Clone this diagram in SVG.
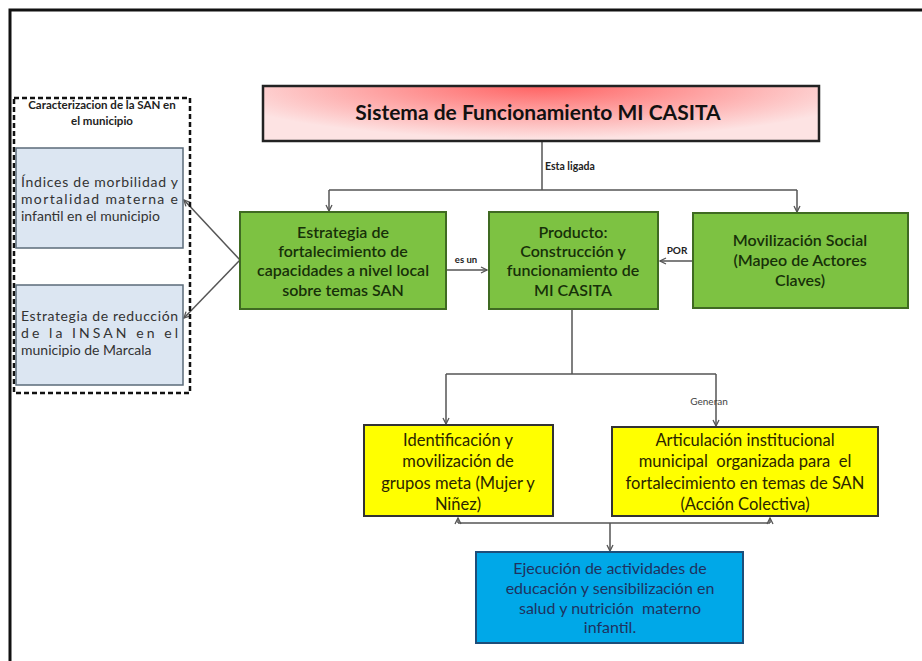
<svg xmlns="http://www.w3.org/2000/svg" width="922" height="661" viewBox="0 0 922 661">
<style>
.cn{fill:none;stroke:#555;stroke-width:1.5}
.t{font-family:Lato,"Open Sans","Liberation Sans",sans-serif;text-anchor:middle}
.g{fill:#7dc242;stroke:#3f6a22;stroke-width:2}
.gt{font-size:16px;fill:#173009;font-weight:600}
.y{fill:#ffff00;stroke:#333;stroke-width:2}
.yt{font-size:16.5px;fill:#2a2500}
.lb{fill:#dce6f2;stroke:#5b6b7a;stroke-width:1.5}
.lt{font-family:Lato,"Open Sans","Liberation Sans",sans-serif;font-size:14px;fill:#333}
.bt{font-size:16px;fill:#1f3260}
.sm{font-family:Lato,"Open Sans","Liberation Sans",sans-serif;font-weight:bold;fill:#222}
</style>
<defs>
<radialGradient id="rg" cx="0.5" cy="0" r="0.6" gradientTransform="translate(0.5 0) scale(1 1.6) translate(-0.5 0)">
<stop offset="0" stop-color="#ff6262"/>
<stop offset="1" stop-color="#fde3e3"/>
</radialGradient>
<marker id="ah" markerWidth="8" markerHeight="8" refX="7" refY="4" orient="auto" markerUnits="userSpaceOnUse">
<path d="M1,1 L7,4 L1,7" fill="none" stroke="#555" stroke-width="1.3"/>
</marker>
</defs>
<rect width="922" height="661" fill="#fff"/>
<rect x="10" y="10" width="1000" height="1000" fill="none" stroke="#111" stroke-width="3"/>

<g id="connectors">
<path class="cn" d="M542,141 V190"/>
<path class="cn" d="M329,190 H797"/>
<path class="cn" d="M329,190 V211" marker-end="url(#ah)"/>
<path class="cn" d="M797,190 V212" marker-end="url(#ah)"/>
<path class="cn" d="M447,270 H487" marker-end="url(#ah)"/>
<path class="cn" d="M693,261 H660" marker-end="url(#ah)"/>
<path class="cn" d="M240,260 L184,200" marker-end="url(#ah)"/>
<path class="cn" d="M240,260 L184,318" marker-end="url(#ah)"/>
<path class="cn" d="M572,309 V374 M446,374 H716"/>
<path class="cn" d="M446,374 V424" marker-end="url(#ah)"/>
<path class="cn" d="M716,374 V426" marker-end="url(#ah)"/>
<path class="cn" d="M458,523 H770"/>
<path class="cn" d="M458,523 V518" marker-end="url(#ah)"/>
<path class="cn" d="M770,523 V518" marker-end="url(#ah)"/>
<path class="cn" d="M610,523 V551" marker-end="url(#ah)"/>
<text class="sm" x="545" y="170" style="font-size:10.5px">Esta ligada</text>
<text class="sm" x="466" y="263" style="font-size:9.5px;text-anchor:middle">es un</text>
<text class="sm" x="677" y="254" style="font-size:10px;text-anchor:middle">POR</text>
<text class="t" x="709" y="405" style="font-size:10px;fill:#444">Generan</text>
</g>

<g id="caracterizacion">
<rect x="14" y="98" width="176" height="295" fill="none" stroke="#111" stroke-width="2.5" stroke-dasharray="5,3"/>
<text class="t" x="102" y="109" style="font-size:11.5px;font-weight:bold;fill:#222">Caracterizacion de la SAN en</text>
<text class="t" x="102" y="125" style="font-size:11.5px;font-weight:bold;fill:#222">el municipio</text>
</g>

<g id="indices">
<rect class="lb" x="16" y="148" width="167" height="100"/>
<text class="lt" x="21" y="187" textLength="157" lengthAdjust="spacing">Índices de morbilidad y</text>
<text class="lt" x="21" y="204" textLength="157" lengthAdjust="spacing">mortalidad materna e</text>
<text class="lt" x="21" y="221">infantil en el municipio</text>
</g>

<g id="estrategia-insan">
<rect class="lb" x="16" y="285" width="167" height="100"/>
<text class="lt" x="21" y="321" textLength="157" lengthAdjust="spacing">Estrategia de reducción</text>
<text class="lt" x="21" y="338" textLength="157" lengthAdjust="spacing">de la INSAN en el</text>
<text class="lt" x="21" y="355">municipio de Marcala</text>
</g>

<g id="titulo">
<rect x="263" y="86" width="556" height="55" fill="url(#rg)" stroke="#222" stroke-width="2.5"/>
<text class="t" x="538" y="120" style="font-size:21px;font-weight:bold;fill:#111">Sistema de Funcionamiento MI CASITA</text>
</g>

<g id="estrategia">
<rect class="g" x="240" y="212" width="206" height="97"/>
<text class="t gt" x="343" y="238">Estrategia de</text>
<text class="t gt" x="343" y="257">fortalecimiento de</text>
<text class="t gt" x="343" y="276">capacidades a nivel local</text>
<text class="t gt" x="343" y="296">sobre temas SAN</text>
</g>

<g id="producto">
<rect class="g" x="489" y="212" width="169" height="97"/>
<text class="t gt" x="573" y="238">Producto:</text>
<text class="t gt" x="573" y="257">Construcción y</text>
<text class="t gt" x="573" y="276">funcionamiento de</text>
<text class="t gt" x="573" y="296">MI CASITA</text>
</g>

<g id="movilizacion">
<rect class="g" x="693" y="213" width="215" height="95"/>
<text class="t gt" x="800" y="246">Movilización Social</text>
<text class="t gt" x="800" y="266">(Mapeo de Actores</text>
<text class="t gt" x="800" y="286">Claves)</text>
</g>

<g id="identificacion">
<rect class="y" x="364" y="425" width="189" height="91"/>
<text class="t yt" x="458" y="446">Identificación y</text>
<text class="t yt" x="458" y="467">movilización de</text>
<text class="t yt" x="458" y="489">grupos meta (Mujer y</text>
<text class="t yt" x="458" y="510">Niñez)</text>
</g>

<g id="articulacion">
<rect class="y" x="612" y="427" width="266" height="89"/>
<text class="t yt" x="745" y="446">Articulación institucional</text>
<text class="t yt" x="745" y="467">municipal&#160; organizada para&#160; el</text>
<text class="t yt" x="745" y="489">fortalecimiento en temas de SAN</text>
<text class="t yt" x="745" y="510">(Acción Colectiva)</text>
</g>

<g id="ejecucion">
<rect x="476" y="552" width="267" height="91" fill="#00a8e8" stroke="#1d4e7a" stroke-width="2"/>
<text class="t bt" x="610" y="574">Ejecución de actividades de</text>
<text class="t bt" x="610" y="594">educación y sensibilización en</text>
<text class="t bt" x="610" y="614">salud y nutrición&#160; materno</text>
<text class="t bt" x="610" y="633">infantil.</text>
</g>
</svg>
